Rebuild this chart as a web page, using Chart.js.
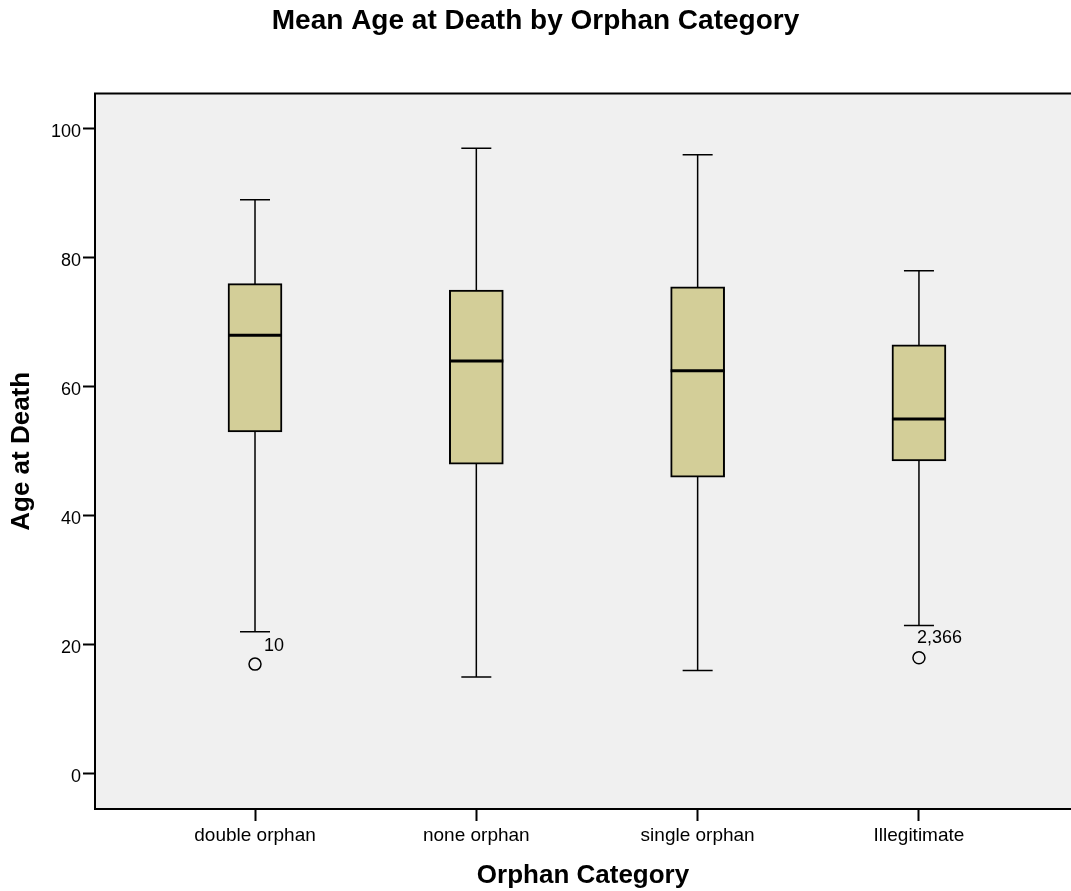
<!DOCTYPE html>
<html>
<head>
<meta charset="utf-8">
<script src="https://cdn.jsdelivr.net/npm/chart.js@4.4.1/dist/chart.umd.min.js"></script>
<style>
  body { margin: 0; background: #fff; }
  canvas { display: block; }
</style>
</head>
<body>
<canvas id="box" width="1071" height="891"></canvas>
<script>
// box summaries
const categorie = ['double orphan', 'none orphan', 'single orphan', 'Illegitimate'];
const minimo  = [22, 15, 16, 23];
const q1      = [53, 48, 46, 48.5];
const mediana = [68, 64, 62.5, 55];
const q3      = [76, 75, 75.5, 66.5];
const massimo = [89, 97, 96, 78];
// outliers: category index, value, case label
const outlierCat   = [0, 3];
const outlierVal   = [17, 18];
const outlierLabel = ['10', '2,366'];
const yTicks = [0, 20, 40, 60, 80, 100];

const font = "'Liberation Sans', Arial, sans-serif";
const labelOff = [[9, -18], [-2, -20]];

const sfondo = {
  id: 'sfondo',
  beforeDraw(chart) {
    const {ctx, chartArea: a} = chart;
    ctx.save();
    ctx.fillStyle = '#f0f0f0';
    ctx.fillRect(a.left, a.top, a.right - a.left, a.bottom - a.top);
    ctx.restore();
  },
  afterDraw(chart) {
    const {ctx, chartArea: a} = chart;
    ctx.save();
    ctx.strokeStyle = '#000';
    ctx.lineWidth = 2;
    ctx.beginPath();
    ctx.moveTo(a.left - 1, a.top);
    ctx.lineTo(a.right, a.top);
    ctx.stroke();
    ctx.restore();
  }
};

const baffi = {
  id: 'baffi',
  beforeDatasetsDraw(chart) {
    const {ctx} = chart;
    const x = chart.scales.x, y = chart.scales.y;
    ctx.save();
    ctx.strokeStyle = '#000';
    ctx.lineWidth = 1.5;
    categorie.forEach((c, i) => {
      const px = x.getPixelForValue(i);
      const top = y.getPixelForValue(massimo[i]);
      const bot = y.getPixelForValue(minimo[i]);
      ctx.beginPath();
      ctx.moveTo(px, top); ctx.lineTo(px, bot);
      ctx.moveTo(px - 15, top); ctx.lineTo(px + 15, top);
      ctx.moveTo(px - 15, bot); ctx.lineTo(px + 15, bot);
      ctx.stroke();
    });
    ctx.restore();
  },
  afterDatasetsDraw(chart) {
    const {ctx} = chart;
    const x = chart.scales.x, y = chart.scales.y;
    ctx.save();
    ctx.strokeStyle = '#000';
    ctx.lineWidth = 3;
    categorie.forEach((c, i) => {
      const px = x.getPixelForValue(i);
      const py = y.getPixelForValue(mediana[i]);
      ctx.beginPath();
      ctx.moveTo(px - 27, py); ctx.lineTo(px + 27, py);
      ctx.stroke();
    });
    ctx.fillStyle = '#000';
    ctx.font = '18px ' + font;
    ctx.textBaseline = 'middle';
    outlierVal.forEach((v, k) => {
      const px = x.getPixelForValue(outlierCat[k]);
      const py = y.getPixelForValue(v);
      ctx.fillText(outlierLabel[k], px + labelOff[k][0], py + labelOff[k][1]);
    });
    ctx.restore();
  }
};

const ctx = document.getElementById('box').getContext('2d');
new Chart(ctx, {
  type: 'bar',
  data: {
    datasets: [{
      data: categorie.map((c, i) => ({x: i, y: [q1[i], q3[i]]})),
      backgroundColor: 'rgb(211,206,152)',
      borderColor: '#000',
      borderWidth: 2,
      borderSkipped: false,
      barThickness: 54
    }, {
      type: 'scatter',
      data: outlierVal.map((v, k) => ({x: outlierCat[k], y: v})),
      pointStyle: 'circle',
      pointRadius: 6,
      pointBackgroundColor: 'rgba(0,0,0,0)',
      pointBorderColor: '#000',
      pointBorderWidth: 1.5
    }]
  },
  options: {
    responsive: false,
    devicePixelRatio: 1,
    animation: false,
    layout: { autoPadding: false, padding: { left: 0, right: 0, top: 0, bottom: 0 } },
    plugins: {
      legend: { display: false },
      tooltip: { enabled: false },
      title: {
        display: true,
        text: 'Mean Age at Death by Orphan Category',
        color: '#000',
        font: { family: font, size: 28, weight: 'bold' },
        padding: { top: 4, bottom: 56 }
      }
    },
    scales: {
      x: {
        type: 'linear',
        offset: false,
        min: -0.723,
        max: 3.687,
        afterBuildTicks: (s) => { s.ticks = categorie.map((c, i) => ({value: i})); },
        afterFit: (s) => { s.height = 82; s.paddingLeft = 0; s.paddingRight = 0; },
        ticks: {
          color: '#000',
          font: { family: font, size: 19 },
          padding: 3,
          maxRotation: 0,
          autoSkip: false,
          callback: (v) => categorie[v]
        },
        grid: { offset: false, drawOnChartArea: false, tickLength: 12, tickColor: '#000', tickWidth: 2 },
        border: { display: true, color: '#000', width: 2 },
        title: {
          display: true,
          text: 'Orphan Category',
          color: '#000',
          font: { family: font, size: 26, weight: 'bold' },
          padding: { top: 0, bottom: 0 }
        }
      },
      y: {
        min: -5.47,
        max: 105.48,
        afterBuildTicks: (s) => { s.ticks = yTicks.map(v => ({value: v})); },
        afterFit: (s) => { s.width = 95; s.paddingTop = 0; s.paddingBottom = 0; },
        ticks: {
          color: '#000',
          font: { family: font, size: 18 },
          padding: 2,
          labelOffset: 3
        },
        grid: { drawOnChartArea: false, tickLength: 12, tickColor: '#000', tickWidth: 2 },
        border: { display: true, color: '#000', width: 2 },
        title: {
          display: true,
          text: 'Age at Death',
          color: '#000',
          font: { family: font, size: 26, weight: 'bold' },
          padding: { top: 6, bottom: 0 }
        }
      }
    }
  },
  plugins: [sfondo, baffi]
});
</script>
</body>
</html>
